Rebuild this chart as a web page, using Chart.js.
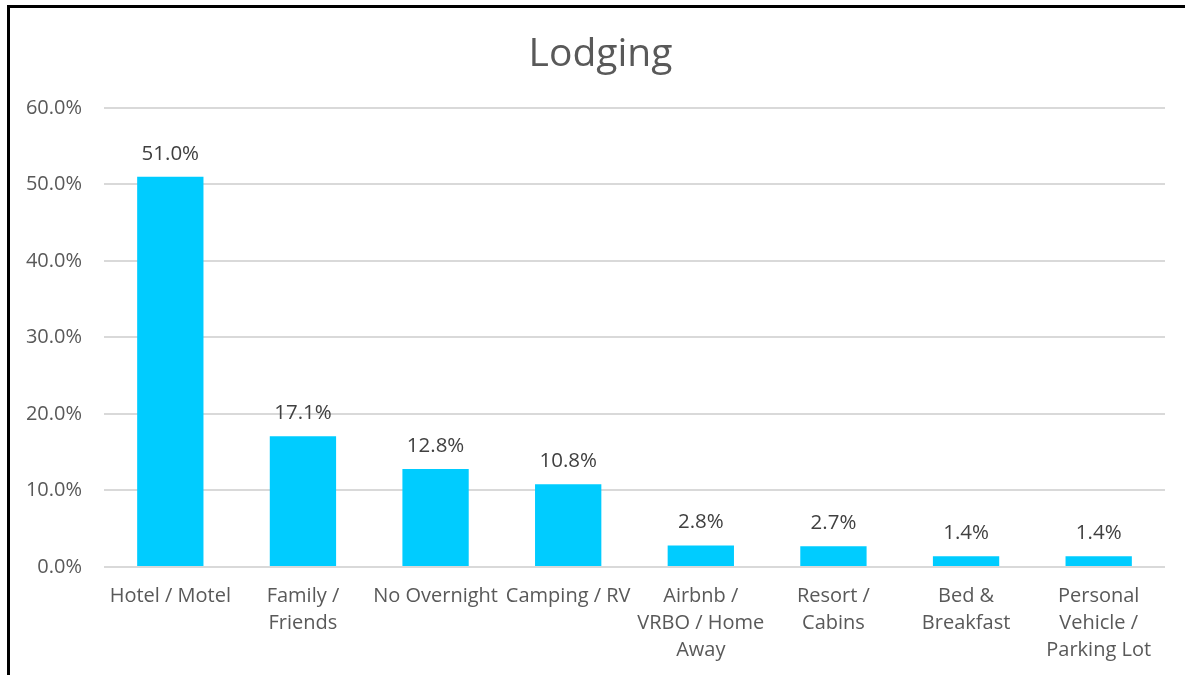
<!DOCTYPE html>
<html>
<head>
<meta charset="utf-8">
<title>Lodging</title>
<script src="https://cdn.jsdelivr.net/npm/chart.js@4/dist/chart.umd.min.js"></script>
<style>
    body { margin: 0; background: #fff; }
    #wrap { position: relative; width: 1185px; height: 675px; overflow: hidden; }
    #marco { position: absolute; left: 7px; top: 5px; right: -10px; bottom: -10px;
             border-left: 3px solid #000; border-top: 3px solid #000; pointer-events: none; }
</style>
</head>
<body>
<div id="wrap">
    <canvas id="myChart" width="1185" height="675"></canvas>
    <div id="marco"></div>
</div>
<script>
var categorias = [
    ['Hotel / Motel'],
    ['Family /', 'Friends'],
    ['No Overnight'],
    ['Camping / RV'],
    ['Airbnb /', 'VRBO / Home', 'Away'],
    ['Resort /', 'Cabins'],
    ['Bed &', 'Breakfast'],
    ['Personal', 'Vehicle /', 'Parking Lot']
];
var porcentajes = [51.0, 17.1, 12.8, 10.8, 2.8, 2.7, 1.4, 1.4];
var ticksY = [0, 10, 20, 30, 40, 50, 60];

var fuente = '"Open Sans", "DejaVu Sans", sans-serif';

// etiquetas encima de cada barra
var etiquetas = {
    id: 'etiquetas',
    afterLayout: function(chart) {
        // el titulo va un poco a la derecha del centro
        if (chart.titleBlock) { chart.titleBlock.left = 36; }
    },
    afterDatasetsDraw: function(chart) {
        var ctx = chart.ctx;
        var meta = chart.getDatasetMeta(0);
        ctx.save();
        ctx.font = '20.5px ' + fuente;
        ctx.fillStyle = '#404040';
        ctx.textAlign = 'center';
        ctx.textBaseline = 'middle';
        meta.data.forEach(function(bar, i) {
            ctx.fillText(porcentajes[i].toFixed(1) + '%', bar.x, bar.y - 23);
        });
        ctx.restore();
    }
};

var ctx = document.getElementById('myChart').getContext('2d');
var chart = new Chart(ctx, {
    type: 'bar',
    data: {
        labels: categorias,
        datasets: [{
            data: porcentajes,
            backgroundColor: '#00CCFF',
            borderWidth: 0,
            categoryPercentage: 1,
            barPercentage: 0.5
        }]
    },
    options: {
        responsive: false,
        animation: false,
        devicePixelRatio: 1,
        layout: { padding: { left: 0, right: 20, top: 0, bottom: 0 } },
        plugins: {
            legend: { display: false },
            tooltip: { enabled: false },
            title: {
                display: true,
                text: 'Lodging',
                color: '#595959',
                font: { family: fuente, size: 39, weight: 'normal', lineHeight: 1.2 },
                padding: { top: 31, bottom: 30 }
            }
        },
        scales: {
            x: {
                grid: { display: false, drawTicks: false },
                border: { display: false },
                afterFit: function(scale) { scale.height = 108; },
                ticks: {
                    color: '#595959',
                    font: { family: fuente, size: 20, lineHeight: 1.35 },
                    padding: 16,
                    maxRotation: 0,
                    autoSkip: false
                }
            },
            y: {
                min: 0,
                max: 60,
                afterFit: function(scale) { scale.width = 104; },
                afterBuildTicks: function(scale) {
                    scale.ticks = ticksY.map(function(v) { return { value: v }; });
                },
                grid: { color: '#D9D9D9', lineWidth: 2, drawTicks: false },
                border: { display: false },
                ticks: {
                    color: '#595959',
                    font: { family: fuente, size: 20 },
                    padding: 22,
                    callback: function(v) { return v.toFixed(1) + '%'; }
                }
            }
        }
    },
    plugins: [etiquetas]
});
</script>
</body>
</html>
